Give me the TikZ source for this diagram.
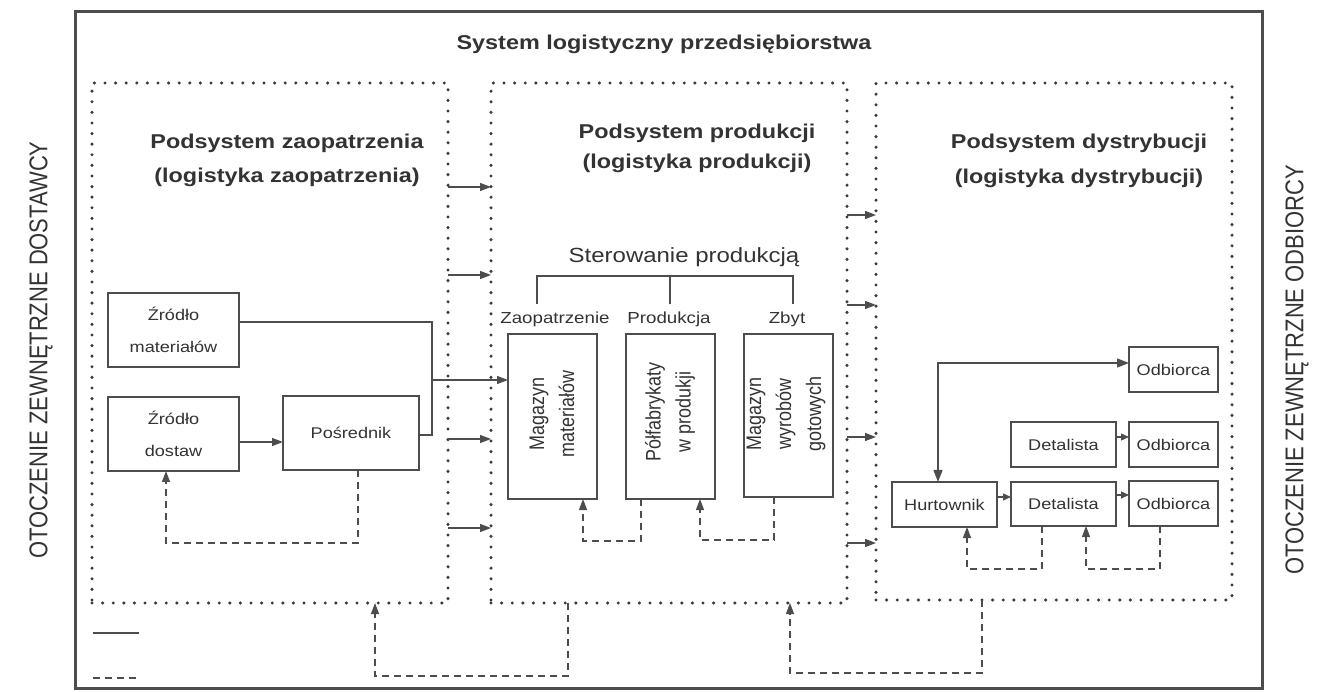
\documentclass[tikz,border=0pt]{standalone}
\usepackage{fontspec}
\setmainfont{Liberation Sans}[FakeStretch=1.17]
\newfontfamily\rotfont{Liberation Sans}[FakeStretch=0.855]
\usetikzlibrary{arrows.meta,calc}
\definecolor{ink}{HTML}{333333}
\definecolor{edge}{HTML}{4D4D4D}
\definecolor{dots}{HTML}{3A3A3A}
\begin{document}
\begin{tikzpicture}[x=1pt,y=-1pt,
  every node/.style={inner sep=0pt,outer sep=0pt,text=ink},
  frameline/.style={draw=edge,line width=3pt},
  dotbox/.style={draw=dots,line width=3.4pt,dash pattern=on 0pt off 10.6pt,line cap=round},
  box/.style={draw=edge,line width=1.3pt,align=center,font=\fontsize{15.5}{32}\selectfont},
  head/.style={align=center,font=\fontsize{20}{34}\selectfont\bfseries},
  lab/.style={font=\fontsize{16}{20}\selectfont},
  rot/.style={rotate=90,align=center,font=\rotfont\fontsize{21}{30}\selectfont},
  side/.style={rotate=90,font=\rotfont\fontsize{25.7}{30}\selectfont},
  line/.style={draw=edge,line width=1.3pt},
  arr/.style={line,-{Triangle[length=11pt,width=8pt]}},
  sarr/.style={line,-{Triangle[length=8pt,width=7pt]}},
  darr/.style={line,{Triangle[length=12pt,width=9pt]}-{Triangle[length=12pt,width=9pt]}},
  dashline/.style={draw=edge,line width=1.1pt,dash pattern=on 7pt off 5pt},
  fb/.style={dashline,-{Triangle[length=11pt,width=8pt]}}]

% page area
\fill[white] (0,0) rectangle (1318,692);
\useasboundingbox (0,0) rectangle (1318,692);

% outer frame of the enterprise system
\node[frameline,minimum width=1187pt,minimum height=676pt] (frame) at (668.5,350) {};
\node[font=\fontsize{20}{24}\selectfont\bfseries] (title) at (664,44) {System logistyczny przedsiębiorstwa};

% environment labels
\node[side] (envl) at (41,350) {OTOCZENIE ZEWNĘTRZNE DOSTAWCY};
\node[side] (envr) at (1297,370) {OTOCZENIE ZEWNĘTRZNE ODBIORCY};

% the three subsystems
\node[dotbox,minimum width=356pt,minimum height=520pt] (sl) at (270,343) {};
\node[dotbox,minimum width=356pt,minimum height=520pt] (sm) at (669,343) {};
\node[dotbox,minimum width=356pt,minimum height=517pt] (sr) at (1054,341.5) {};

\node[head] (tl) at (287,160) {Podsystem zaopatrzenia\\(logistyka zaopatrzenia)};
\node[head,font=\fontsize{20}{30}\selectfont\bfseries] (tm) at (697,148) {Podsystem produkcji\\(logistyka produkcji)};
\node[head,font=\fontsize{20}{35}\selectfont\bfseries] (tr) at (1079,161) {Podsystem dystrybucji\\(logistyka dystrybucji)};

% flows between subsystems
\foreach \yy in {187,275,439,528}{
  \path (0,\yy) coordinate (t);
  \draw[arr] (sl.east |- t) -- (sm.west |- t);
}
\foreach \yy in {215,305,437,543}{
  \path (0,\yy) coordinate (t);
  \draw[arr] (sm.east |- t) -- (sr.west |- t);
}

% supply subsystem
\node[box,minimum width=131pt,minimum height=74pt] (zm) at (173.5,330) {Źródło\\materiałów};
\node[box,minimum width=131pt,minimum height=74pt] (zd) at (173.5,434) {Źródło\\dostaw};
\node[box,minimum width=136pt,minimum height=74pt] (pos) at (351,433) {Pośrednik};
\coordinate (j) at (432,380);
\draw[arr] ([yshift=-8pt]zd.east) -- ([yshift=-8pt]zd.east -| pos.west);
\draw[line] ([yshift=8pt]zm.east) -| ([yshift=-2pt]pos.east -| j) -- ([yshift=-2pt]pos.east);
\draw[fb] ([xshift=7pt]pos.south) -- ++(0,73) -| ([xshift=-7.5pt]zd.south);

% production subsystem
\node[font=\fontsize{20.5}{24}\selectfont] (ster) at (684,257) {Sterowanie produkcją};
\coordinate (b1) at (537,304);
\coordinate (b2) at (670,304);
\coordinate (b3) at (793,304);
\coordinate (bt) at (670,276);
\draw[line] (b1) |- (b3 |- bt) -- (b3);
\draw[line] (b2) -- (bt);
\node[lab] (lz) at (555,319) {Zaopatrzenie};
\node[lab] (lp) at (669,319) {Produkcja};
\node[lab] (lzb) at (787,319) {Zbyt};

\node[box,minimum width=89pt,minimum height=165pt] (mm) at (552.5,416.5) {};
\node[box,minimum width=89pt,minimum height=165pt] (pf) at (670.5,416.5) {};
\node[box,minimum width=89pt,minimum height=163pt] (mw) at (788.5,415.5) {};
\node[rot] (mmt) at (552,414) {Magazyn\\materiałów};
\node[rot] (pft) at (670,412) {Półfabrykaty\\w produkji};
\node[rot] (mwt) at (786,414) {Magazyn\\wyrobów\\gotowych};

\draw[arr] (j) -- (j -| mm.west);
\draw[fb] ([xshift=-29.5pt]pf.south) -- ++(0,42) -| ([xshift=30.5pt]mm.south);
\draw[fb] ([xshift=-14.5pt]mw.south) -- ++(0,43) -| ([xshift=29.5pt]pf.south);

% distribution subsystem
\node[box,minimum width=89pt,minimum height=45pt] (o1) at (1173.5,369.5) {Odbiorca};
\node[box,minimum width=105pt,minimum height=45pt] (d1) at (1063.5,444.5) {Detalista};
\node[box,minimum width=89pt,minimum height=45pt] (o2) at (1173.5,444.5) {Odbiorca};
\node[box,minimum width=105pt,minimum height=45pt] (hu) at (944.5,504.5) {Hurtownik};
\node[box,minimum width=105pt,minimum height=44pt] (d2) at (1063.5,504) {Detalista};
\node[box,minimum width=89pt,minimum height=45pt] (o3) at (1173.5,503.5) {Odbiorca};

\draw[darr] ([xshift=-6.5pt]hu.north) |- ([yshift=6.5pt]o1.west);
\draw[sarr] ([yshift=7.5pt]d1.east) -- ([yshift=7.5pt]d1.east -| o2.west);
\draw[sarr] ([yshift=7.5pt]hu.east) -- ([yshift=7.5pt]hu.east -| d2.west);
\draw[sarr] ([yshift=9pt]d2.east) -- ([yshift=9pt]d2.east -| o3.west);
\draw[fb] ([xshift=-21.5pt]d2.south) -- ++(0,43) -| ([xshift=22.5pt]hu.south);
\draw[fb] ([xshift=-13.5pt]o3.south) -- ++(0,43) -| ([xshift=22.5pt]d2.south);

% feedback between subsystems
\path (568,0) coordinate (x1) (375,0) coordinate (x2) (982,0) coordinate (x3) (790,0) coordinate (x4);
\draw[fb] (sm.south -| x1) -- ++(0,73) -| (sl.south -| x2);
\draw[fb] (sr.south -| x3) -- ++(0,73) -| (sm.south -| x4);

% legend marks
\coordinate (ls1) at (93,633);
\coordinate (ls2) at (139,633);
\coordinate (ld1) at (93,678);
\coordinate (ld2) at (139,678);
\draw[line] (ls1) -- (ls2);
\draw[dashline] (ld1) -- (ld2);
\end{tikzpicture}
\end{document}
